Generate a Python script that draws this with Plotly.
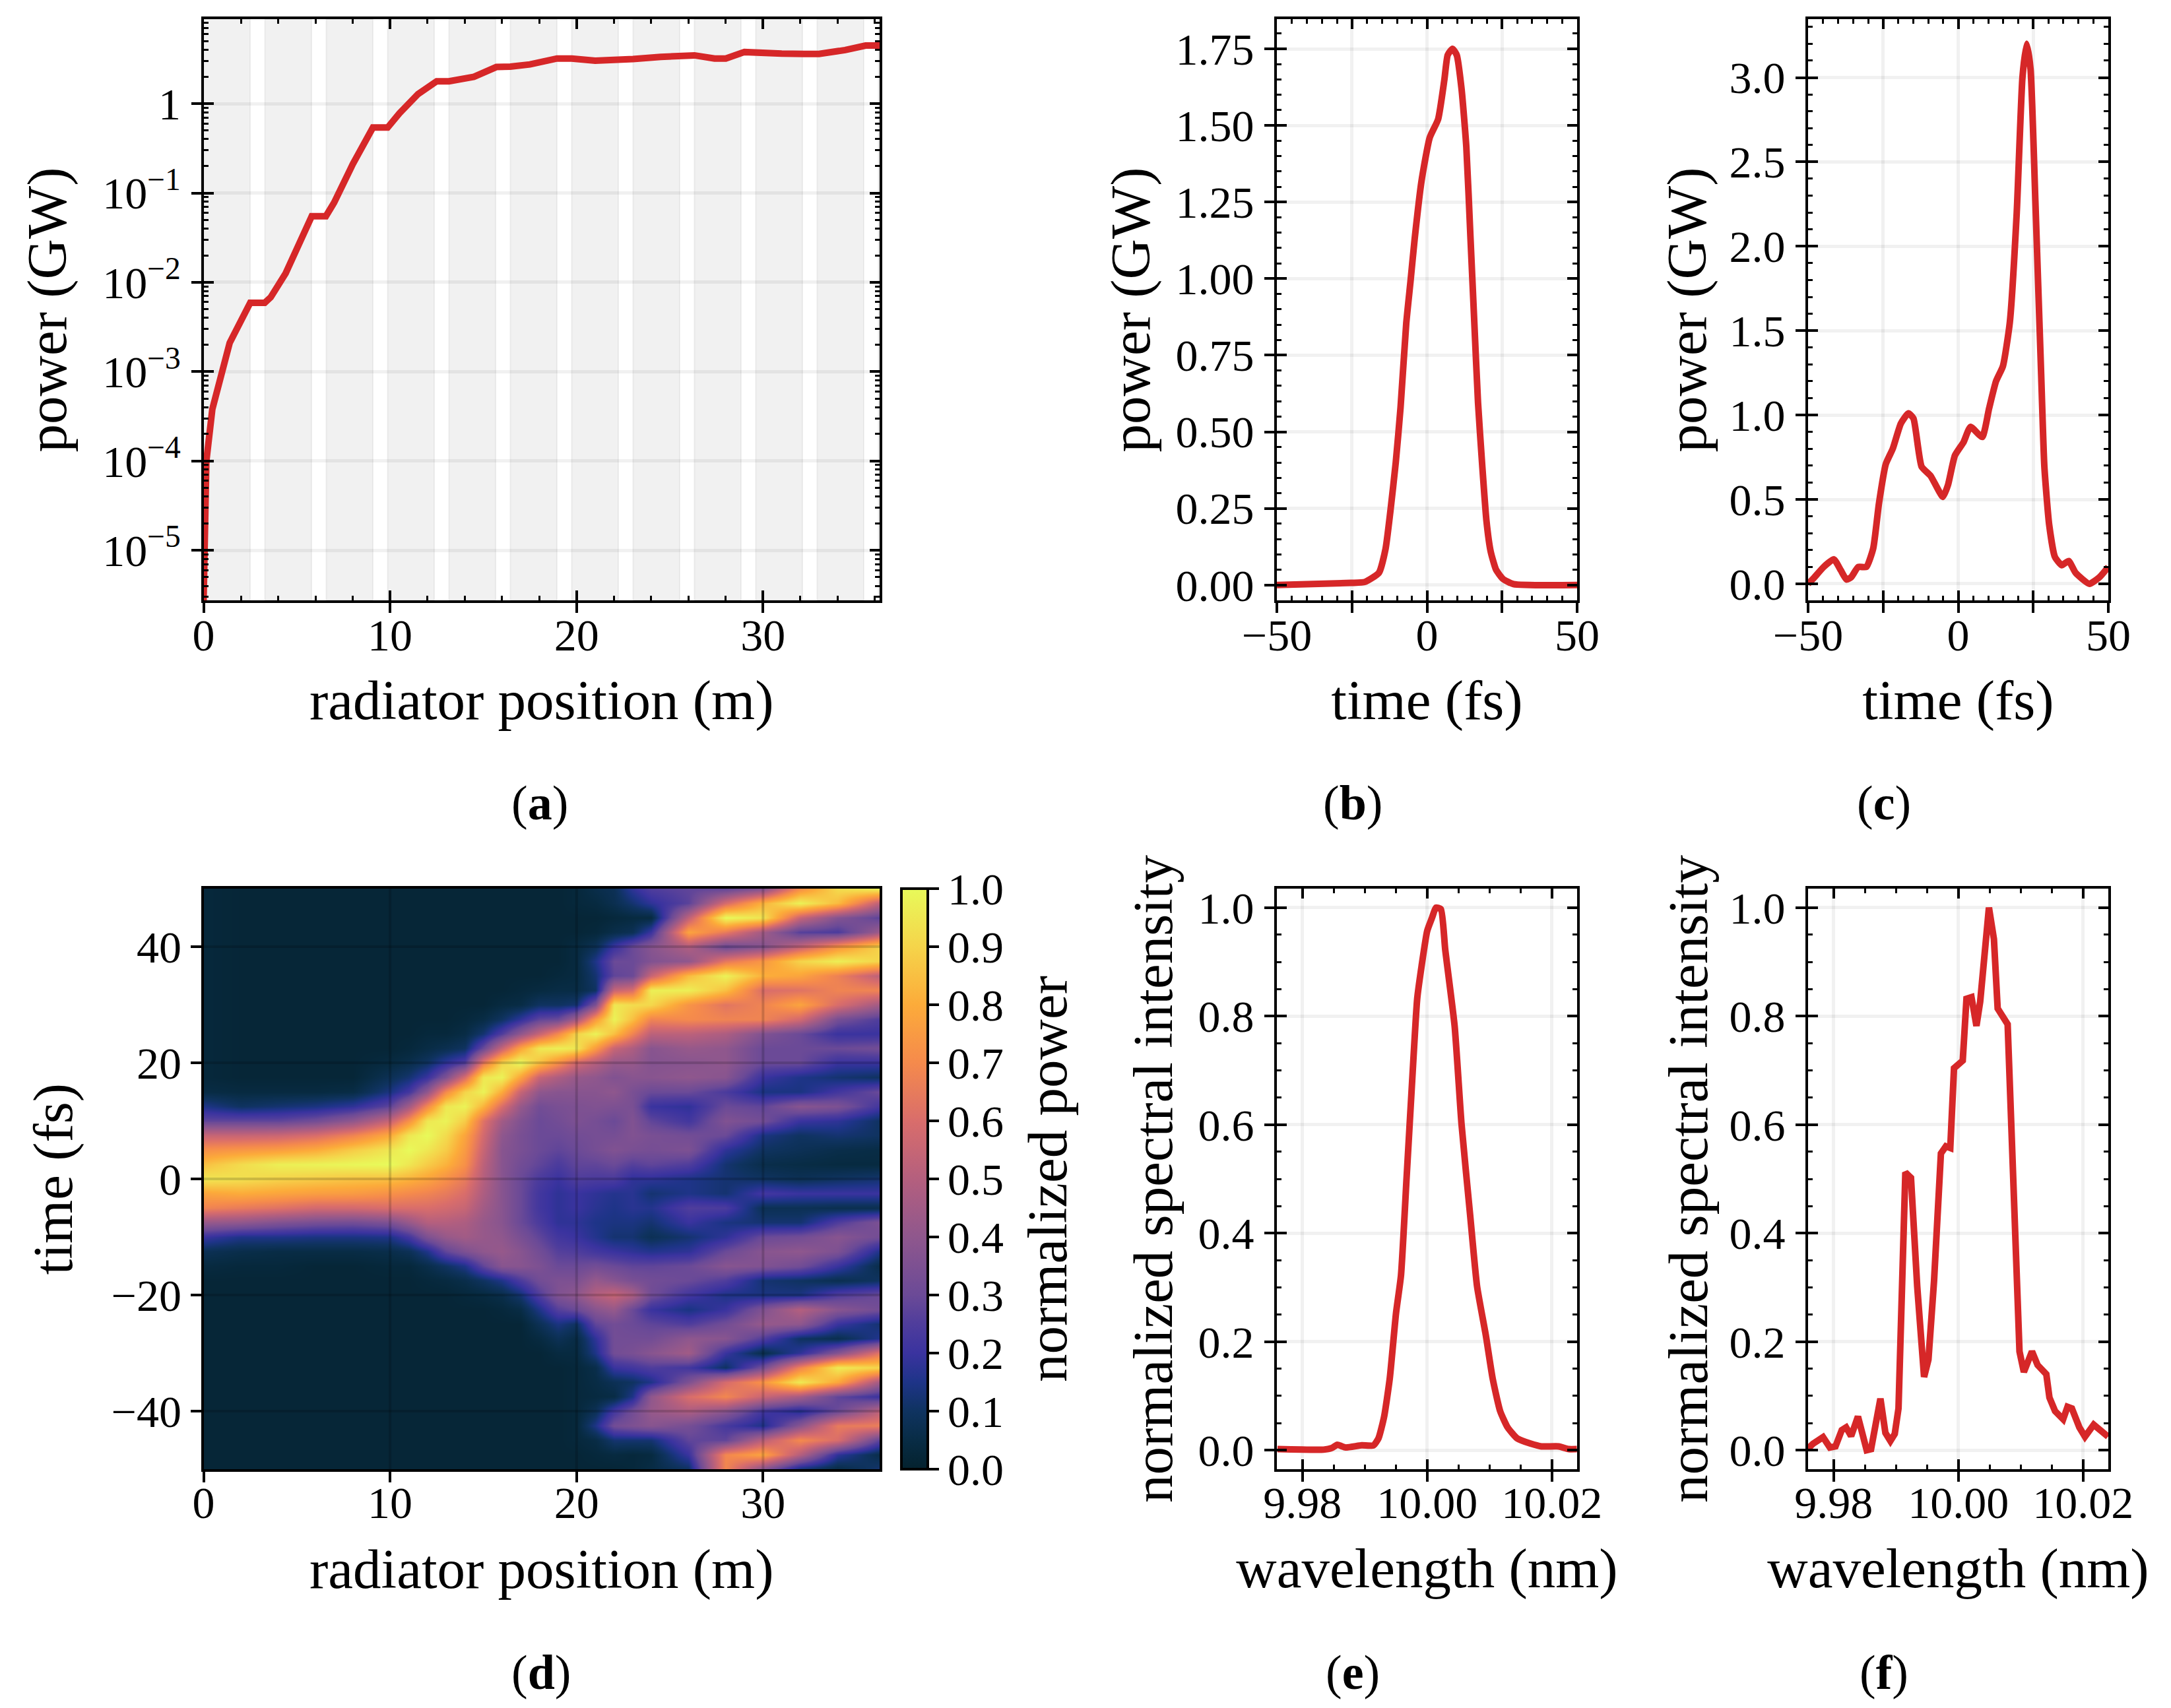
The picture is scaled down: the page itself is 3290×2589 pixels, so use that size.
import numpy as np
import plotly.graph_objects as go

W, H = 3290, 2589
RED = "#d62728"
FONT = "Liberation Serif"
TICK_SIZE = 68
TITLE_SIZE = 85

# (a) gain curve
pos_a = [0, 0.03, 0.15, 0.47, 0.95, 1.4, 2.5, 3.28, 3.6, 4.4, 5.8, 6.56, 7, 8, 9.08, 9.87, 10.5, 11.5, 12.5, 13.16,
         14.5, 15.7, 16.45, 17.5, 18.95, 19.74, 21, 22.3, 23.03, 24.5, 25.7, 26.32, 27.4, 28, 29, 29.7, 31, 32.2, 33,
         34.4, 35.5, 36.25]
power_a = [2.75e-6, 1e-5, 1e-4, 3.8e-4, 1e-3, 2.1e-3, 5.9e-3, 5.9e-3, 6.8e-3, 0.0126, 0.055, 0.055, 0.078, 0.21, 0.54,
           0.54, 0.78, 1.28, 1.78, 1.78, 2.0, 2.57, 2.6, 2.75, 3.2, 3.2, 3.03, 3.03, 3.16, 3.34, 3.47, 3.47, 3.2, 3.2,
           3.78, 3.78, 3.63, 3.6, 3.6, 3.98, 4.47, 4.47]
undulator_starts = [0, 3.29, 6.58, 9.87, 13.16, 16.45, 19.74, 23.03, 26.32, 29.61, 32.9, 36.19]
undulator_ends = [2.5, 5.79, 9.08, 12.37, 15.66, 18.95, 22.24, 25.53, 28.82, 32.11, 35.4, 36.25]

# (b) and (c) temporal profiles
time_b = [-50, -25.3, -20.7, -16, -13.8, -12.2, -10.4, -8.8, -6.9, -5.5, -4.1, -1.8, 0.9, 3.7, 5.8, 6.9, 8.5, 9.9,
          11.5, 13.1, 14.5, 15.7, 17, 18.4, 19.8, 21.2, 23, 25.3, 28.8, 50]
power_b = [0, 0.007, 0.01, 0.04, 0.118, 0.24, 0.40, 0.58, 0.855, 0.99, 1.13, 1.32, 1.46, 1.52, 1.65, 1.73, 1.75, 1.73,
           1.62, 1.43, 1.13, 0.87, 0.595, 0.39, 0.21, 0.11, 0.05, 0.02, 0.003, 0]
time_c = [-50, -48.3, -44.8, -41.4, -39.1, -37.2, -35.6, -33.3, -30.6, -28.3, -26.4, -24.1, -21.8, -19.1, -16.6, -14.9,
          -12.2, -9.2, -5.1, -3.4, -1.1, 1.8, 4.1, 8.0, 10.3, 12.6, 14.9, 17.2, 19.5, 21.4, 22.8, 24.1, 25.7, 27.6,
          28.7, 30.3, 32.2, 34.5, 36.8, 39.1, 43.7, 47.1, 50]
power_c = [0.0, 0.03, 0.10, 0.145, 0.08, 0.025, 0.04, 0.10, 0.10, 0.21, 0.475, 0.71, 0.80, 0.95, 1.01, 0.98,
           0.695, 0.64, 0.515, 0.585, 0.76, 0.84, 0.93, 0.87, 1.04, 1.2, 1.29, 1.55, 2.2, 3.0, 3.2, 3.05, 2.27, 1.26,
           0.695, 0.35, 0.16, 0.11, 0.135, 0.065, 0, 0.04, 0.1]

# (e) and (f) spectra
wave_e = [9.9760, 9.9834, 9.9847, 9.9856, 9.9869, 9.9895, 9.9914, 9.9922, 9.9931, 9.9940, 9.9950, 9.9958, 9.9967,
          9.9976, 9.9984, 9.9991, 10.0000, 10.0008, 10.0014, 10.0022, 10.0029, 10.0044, 10.0055, 10.0069, 10.0080,
          10.0094, 10.0105, 10.0117, 10.0129, 10.0144, 10.0166, 10.0183, 10.0211, 10.0227, 10.0240]
spec_e = [0.002, 0.001, 0.004, 0.010, 0.005, 0.009, 0.009, 0.022, 0.062, 0.132, 0.252, 0.322, 0.502, 0.682, 0.832,
          0.892, 0.957, 0.982, 1.0, 0.997, 0.922, 0.782, 0.602, 0.432, 0.302, 0.212, 0.132, 0.072, 0.042, 0.022, 0.012,
          0.007, 0.007, 0.002, 0.002]
wave_f = [9.9758, 9.9767, 9.9783, 9.9794, 9.9803, 9.9813, 9.9820, 9.9828, 9.9839, 9.9847, 9.9853, 9.9860, 9.9875,
          9.9883, 9.9891, 9.9898, 9.9904, 9.9915, 9.9924, 9.9934, 9.9945, 9.9952, 9.9961, 9.9972, 9.9980, 9.9987,
          9.9993, 10.0007, 10.0013, 10.0021, 10.0029, 10.0035, 10.0049, 10.0057, 10.0063, 10.0079, 10.0086, 10.0095,
          10.0098, 10.0105, 10.0118, 10.0127, 10.0141, 10.0146, 10.0155, 10.0168, 10.0175, 10.0182, 10.0194, 10.0203,
          10.0217, 10.024]
spec_f = [0.002, 0.012, 0.024, 0.005, 0.007, 0.037, 0.042, 0.026, 0.062, 0.032, 0.0, 0.002, 0.095, 0.032, 0.017, 0.03,
          0.077, 0.512, 0.502, 0.302, 0.135, 0.167, 0.312, 0.547, 0.56, 0.557, 0.704, 0.718, 0.832, 0.835, 0.782, 0.827,
          1.0, 0.942, 0.814, 0.785, 0.562, 0.282, 0.182, 0.144, 0.182, 0.157, 0.14, 0.097, 0.072, 0.057, 0.08, 0.077,
          0.042, 0.025, 0.047, 0.025]

# (d) heatmap, one list per radiator position, percent of peak, time from +50 down to -50 fs
pos_d = [0, 2, 4, 6, 8, 10, 11, 12, 13, 14, 15, 16, 17, 18, 19, 20, 21, 22, 23, 24, 26, 28, 30, 32, 34, 36.25]
time_d = [50, 47.5, 45, 42.5, 40, 37.5, 35, 32.5, 30, 27.5, 25, 22.5, 20, 17.5, 15, 12.5, 10, 7.5, 5, 2.5, 0, -2.5, -5,
          -7.5, -10, -12.5, -15, -17.5, -20, -22.5, -25, -27.5, -30, -32.5, -35, -37.5, -40, -42.5, -45, -47.5, -50]
z_columns = [
    [3, 3, 3, 3, 3, 3, 3, 3, 3, 3, 3, 3, 3, 3, 5, 15, 28, 55, 72, 85, 95, 78, 68, 42, 20, 8, 4, 2, 2, 2, 2, 2, 2, 2, 2, 2, 2, 2, 2, 2, 2],
    [2, 2, 2, 2, 2, 2, 2, 2, 2, 2, 2, 2, 2, 2, 4, 10, 28, 55, 74, 92, 93, 80, 65, 40, 15, 6, 3, 2, 2, 2, 2, 2, 2, 2, 2, 2, 2, 2, 2, 2, 2],
    [2, 2, 2, 2, 2, 2, 2, 2, 2, 2, 2, 2, 2, 2, 4, 12, 28, 56, 76, 97, 90, 78, 62, 36, 15, 5, 3, 2, 2, 2, 2, 2, 2, 2, 2, 2, 2, 2, 2, 2, 2],
    [2, 2, 2, 2, 2, 2, 2, 2, 2, 2, 2, 2, 2, 2, 4, 14, 32, 60, 80, 98, 88, 76, 58, 33, 14, 5, 2, 2, 2, 2, 2, 2, 2, 2, 2, 2, 2, 2, 2, 2, 2],
    [2, 2, 2, 2, 2, 2, 2, 2, 2, 2, 2, 2, 2, 2, 5, 18, 40, 68, 88, 99, 86, 75, 58, 32, 14, 5, 2, 2, 2, 2, 2, 2, 2, 2, 2, 2, 2, 2, 2, 2, 2],
    [2, 2, 2, 2, 2, 2, 2, 2, 2, 2, 2, 2, 4, 8, 14, 28, 55, 80, 95, 100, 85, 72, 60, 35, 15, 6, 3, 2, 2, 2, 2, 2, 2, 2, 2, 2, 2, 2, 2, 2, 2],
    [2, 2, 2, 2, 2, 2, 2, 2, 2, 2, 2, 3, 6, 12, 22, 45, 72, 95, 100, 95, 82, 70, 60, 42, 22, 8, 3, 2, 2, 2, 2, 2, 2, 2, 2, 2, 2, 2, 2, 2, 2],
    [2, 2, 2, 2, 2, 2, 2, 2, 2, 2, 3, 5, 10, 20, 40, 70, 95, 100, 95, 88, 78, 68, 60, 50, 35, 15, 6, 3, 2, 2, 2, 2, 2, 2, 2, 2, 2, 2, 2, 2, 2],
    [2, 2, 2, 2, 2, 2, 2, 2, 2, 2, 3, 7, 18, 35, 70, 95, 98, 92, 88, 82, 72, 65, 58, 50, 42, 28, 10, 4, 2, 2, 2, 2, 2, 2, 2, 2, 2, 2, 2, 2, 2],
    [2, 2, 2, 2, 2, 2, 2, 2, 2, 3, 5, 10, 25, 60, 90, 98, 88, 78, 75, 72, 65, 60, 55, 48, 45, 35, 15, 6, 3, 2, 2, 2, 2, 2, 2, 2, 2, 2, 2, 2, 2],
    [2, 2, 2, 2, 2, 2, 2, 2, 2, 5, 12, 30, 65, 95, 98, 82, 62, 58, 55, 52, 50, 48, 45, 42, 42, 40, 28, 10, 4, 2, 2, 2, 2, 2, 2, 2, 2, 2, 2, 2, 2],
    [2, 2, 2, 2, 2, 2, 2, 2, 4, 10, 25, 55, 90, 98, 80, 60, 45, 40, 38, 38, 38, 38, 38, 38, 40, 42, 38, 15, 6, 3, 2, 2, 2, 2, 2, 2, 2, 2, 2, 2, 2],
    [2, 2, 2, 2, 2, 2, 2, 3, 5, 18, 40, 78, 100, 78, 55, 42, 36, 34, 34, 32, 30, 30, 30, 30, 34, 38, 38, 24, 12, 5, 2, 2, 2, 2, 2, 2, 2, 2, 2, 2, 2],
    [2, 2, 2, 2, 2, 2, 2, 4, 10, 28, 55, 95, 85, 55, 40, 32, 30, 30, 30, 28, 24, 22, 22, 24, 28, 32, 35, 32, 25, 15, 8, 4, 2, 2, 2, 2, 2, 2, 2, 2, 2],
    [2, 2, 2, 2, 2, 2, 3, 5, 10, 30, 70, 97, 72, 48, 38, 34, 32, 30, 28, 24, 20, 18, 18, 18, 22, 26, 30, 35, 36, 26, 14, 8, 4, 2, 2, 2, 2, 2, 2, 2, 2],
    [3, 3, 2, 2, 4, 4, 4, 5, 12, 45, 90, 95, 58, 42, 38, 35, 35, 32, 30, 28, 25, 20, 20, 18, 20, 25, 30, 35, 40, 30, 10, 5, 4, 3, 3, 3, 3, 3, 3, 2, 2],
    [6, 4, 2, 3, 8, 15, 12, 10, 35, 75, 98, 75, 50, 40, 38, 36, 33, 33, 33, 28, 24, 18, 17, 15, 16, 22, 32, 42, 50, 38, 28, 18, 15, 6, 5, 4, 8, 15, 5, 3, 2],
    [8, 7, 3, 6, 20, 30, 28, 55, 95, 98, 85, 55, 42, 36, 40, 35, 30, 33, 36, 30, 24, 16, 15, 14, 12, 20, 30, 38, 55, 42, 32, 32, 32, 20, 8, 5, 22, 32, 12, 4, 2],
    [18, 12, 4, 8, 30, 30, 30, 60, 92, 85, 68, 48, 42, 38, 34, 34, 36, 36, 34, 26, 18, 17, 17, 14, 12, 18, 28, 34, 48, 30, 30, 32, 34, 22, 10, 15, 32, 35, 12, 3, 3],
    [25, 18, 4, 20, 38, 36, 55, 97, 91, 68, 52, 38, 37, 38, 30, 20, 28, 34, 33, 28, 18, 12, 16, 12, 8, 16, 28, 32, 32, 20, 28, 32, 38, 25, 15, 40, 42, 38, 12, 4, 5],
    [28, 27, 53, 78, 49, 40, 84, 97, 73, 70, 52, 42, 38, 40, 30, 18, 22, 32, 35, 25, 15, 15, 25, 20, 12, 18, 30, 30, 22, 14, 25, 40, 45, 22, 35, 60, 48, 33, 28, 20, 10],
    [28, 59, 100, 65, 30, 64, 98, 85, 63, 68, 48, 40, 40, 38, 24, 30, 36, 30, 18, 12, 12, 12, 24, 14, 18, 30, 38, 25, 15, 20, 32, 38, 20, 10, 59, 69, 39, 23, 28, 69, 69],
    [36, 82, 94, 45, 37, 74, 81, 60, 68, 68, 36, 30, 30, 20, 14, 28, 32, 14, 10, 6, 10, 22, 8, 12, 30, 38, 36, 12, 14, 36, 42, 25, 6, 33, 73, 55, 22, 15, 52, 78, 37],
    [71, 98, 55, 26, 54, 90, 78, 62, 78, 58, 30, 30, 30, 15, 14, 38, 20, 10, 8, 5, 8, 20, 8, 12, 32, 40, 32, 10, 14, 50, 40, 10, 18, 68, 96, 46, 16, 38, 70, 50, 12],
    [92, 84, 37, 24, 73, 97, 67, 68, 60, 33, 20, 30, 20, 12, 22, 35, 18, 12, 6, 4, 10, 20, 7, 25, 38, 35, 20, 7, 25, 38, 20, 7, 37, 96, 79, 28, 30, 65, 60, 18, 5],
    [98, 52, 27, 44, 90, 90, 52, 68, 45, 25, 20, 32, 20, 10, 30, 22, 10, 10, 5, 4, 12, 20, 7, 35, 32, 15, 6, 10, 30, 32, 12, 16, 63, 90, 45, 20, 52, 66, 27, 6, 12],
]
z_norm = (np.array(z_columns).T / 100).tolist()

thermal = [[0.0, "#04222e"], [0.05, "#082c45"], [0.1, "#0f3360"], [0.15, "#1e3488"], [0.2, "#3a339f"], [0.25, "#4f3d9c"],
           [0.3, "#6b4a97"], [0.4, "#8f578d"], [0.5, "#b45f7e"], [0.6, "#d96d6b"], [0.7, "#f58a4c"], [0.8, "#fcab3a"],
           [0.9, "#f5d44a"], [1.0, "#e8fa5a"]]

GRID = "rgba(0,0,0,0.055)"


def dom_x(left, right):
    return [left / W, right / W]


def dom_y(top, bottom):
    return [1 - bottom / H, 1 - top / H]


# primary axis keeps the labels and the outer half of the major ticks, the overlay axis the inner ticks
def axis_pair(domain, rng, vals, text, inner_vals, minor, title, standoff, pad, grid=True, **extra):
    primary = dict(domain=domain, range=rng, tickmode="array", tickvals=vals, ticktext=text, ticks="outside",
                   ticklen=15, tickwidth=4, tickcolor="black", showline=True, linewidth=4, linecolor="black",
                   showgrid=False, zeroline=False, tickfont=dict(size=TICK_SIZE), ticklabelstandoff=pad,
                   title=dict(text=title, standoff=standoff, font=dict(size=TITLE_SIZE)), **extra)
    extra_outer = [v for v in inner_vals if v not in vals]
    if extra_outer:
        primary["minor"] = dict(ticks="outside", ticklen=15, tickwidth=4, tickcolor="black", showgrid=False,
                                tickmode="array", tickvals=extra_outer)
    overlay = dict(domain=domain, range=rng, tickmode="array", tickvals=inner_vals, ticks="inside", ticklen=15, tickwidth=4,
                   tickcolor="black", showline=True, linewidth=4, linecolor="black", mirror="ticks", showticklabels=False,
                   showgrid=grid, gridcolor=GRID, gridwidth=5, zeroline=False,
                   minor=dict(ticks="inside", ticklen=7, tickwidth=3, tickcolor="black", showgrid=False, **minor),
                   **extra)
    return primary, overlay


fig = go.Figure()
layout = {}

log_minor = [m * 10.0 ** e for e in range(-6, 1) for m in range(2, 10)]
log_vals = [1e-5, 1e-4, 1e-3, 1e-2, 1e-1, 1]
log_text = ["10<sup>−5</sup>", "10<sup>−4</sup>", "10<sup>−3</sup>", "10<sup>−2</sup>", "10<sup>−1</sup>", "1"]

line_panels = [
    dict(n=1, xdom=(308.5, 1333), ydom=(29, 910), x=pos_a, y=power_a, shape="linear",
         xr=[0, 36.25], yr=[-5.56, 0.946], xvals=[0, 10, 20, 30], xtext=["0", "10", "20", "30"], xinner=[0, 10, 20, 30],
         yvals=log_vals, ytext=log_text, xminor=dict(tick0=0, dtick=2), yminor=dict(tickmode="array", tickvals=log_minor),
         xtitle="radiator position (m)", ytitle="power (GW)", ylog=True, xgrid=False,
         xpad=-25, xstand=32, ystand=28),
    dict(n=2, xdom=(1935, 2390), ydom=(29, 910), x=time_b, y=power_b, shape="spline",
         xr=[-50, 50], yr=[-0.05, 1.847], xvals=[-50, 0, 50], xtext=["−50", "0", "50"], xinner=[-50, -25, 0, 25, 50],
         yvals=[0, 0.25, 0.5, 0.75, 1, 1.25, 1.5, 1.75], ytext=["0.00", "0.25", "0.50", "0.75", "1.00", "1.25", "1.50", "1.75"],
         xminor=dict(tick0=0, dtick=5), yminor=dict(tick0=0, dtick=0.05),
         xtitle="time (fs)", ytitle="power (GW)", ylog=False, xgrid=True, xpad=-25, xstand=32, ystand=12),
    dict(n=3, xdom=(2740, 3195), ydom=(29, 910), x=time_c, y=power_c, shape="spline",
         xr=[-50, 50], yr=[-0.098, 3.346], xvals=[-50, 0, 50], xtext=["−50", "0", "50"], xinner=[-50, -25, 0, 25, 50],
         yvals=[0, 0.5, 1, 1.5, 2, 2.5, 3], ytext=["0.0", "0.5", "1.0", "1.5", "2.0", "2.5", "3.0"],
         xminor=dict(tick0=0, dtick=5), yminor=dict(tick0=0, dtick=0.1),
         xtitle="time (fs)", ytitle="power (GW)", ylog=False, xgrid=True, xpad=-25, xstand=32, ystand=8),
    dict(n=5, xdom=(1935, 2390), ydom=(1347, 2227), x=wave_e, y=spec_e, shape="spline",
         xr=[9.9759, 10.02404], yr=[-0.035, 1.035], xvals=[9.98, 10.0, 10.02], xtext=["9.98", "10.00", "10.02"],
         xinner=[9.98, 10.0, 10.02], yvals=[0, 0.2, 0.4, 0.6, 0.8, 1],
         ytext=["0.0", "0.2", "0.4", "0.6", "0.8", "1.0"], xminor=dict(tick0=9.98, dtick=0.005),
         yminor=dict(tick0=0, dtick=0.05), xtitle="wavelength (nm)", ytitle="normalized spectral intensity", ylog=False,
         xgrid=True, xpad=-27, xstand=33, ystand=12),
    dict(n=6, xdom=(2740, 3195), ydom=(1347, 2227), x=wave_f, y=spec_f, shape="linear",
         xr=[9.9759, 10.02404], yr=[-0.035, 1.035], xvals=[9.98, 10.0, 10.02], xtext=["9.98", "10.00", "10.02"],
         xinner=[9.98, 10.0, 10.02], yvals=[0, 0.2, 0.4, 0.6, 0.8, 1],
         ytext=["0.0", "0.2", "0.4", "0.6", "0.8", "1.0"], xminor=dict(tick0=9.98, dtick=0.005),
         yminor=dict(tick0=0, dtick=0.05), xtitle="wavelength (nm)", ytitle="normalized spectral intensity", ylog=False,
         xgrid=True, xpad=-27, xstand=33, ystand=6),
]

for p in line_panels:
    n = p["n"]
    over = n + 10
    y_extra = dict(type="log") if p["ylog"] else {}
    xa, xo = axis_pair(dom_x(*p["xdom"]), p["xr"], p["xvals"], p["xtext"], p["xinner"], p["xminor"], p["xtitle"],
                       p["xstand"], p["xpad"], grid=p["xgrid"])
    ya, yo = axis_pair(dom_y(*p["ydom"]), p["yr"], p["yvals"], p["ytext"], p["yvals"], p["yminor"], p["ytitle"],
                       p["ystand"], 2, **y_extra)
    xa.update(anchor=f"y{n}")
    ya.update(anchor=f"x{n}")
    xo.update(anchor=f"y{over}", overlaying=f"x{n}" if n > 1 else "x")
    yo.update(anchor=f"x{over}", overlaying=f"y{n}" if n > 1 else "y")
    layout[f"xaxis{n}"] = xa
    layout[f"yaxis{n}"] = ya
    layout[f"xaxis{over}"] = xo
    layout[f"yaxis{over}"] = yo
    fig.add_trace(go.Scatter(x=[None], y=[None], xaxis=f"x{n}", yaxis=f"y{n}", showlegend=False, hoverinfo="skip"))
    fig.add_trace(go.Scatter(x=p["x"], y=p["y"], mode="lines", xaxis=f"x{over}", yaxis=f"y{over}", showlegend=False,
                             line=dict(color=RED, width=10, shape=p["shape"], smoothing=0.5)))

# (d)
heat_x = dom_x(308.5, 1333)
heat_y = dom_y(1347, 2227)
layout["xaxis4"] = dict(domain=heat_x, range=[0, 36.25], anchor="y4", tickvals=[0, 10, 20, 30], ticks="outside",
                        ticklen=16, tickwidth=4, tickcolor="black", showline=True, mirror=True, linewidth=4,
                        linecolor="black", showgrid=False, zeroline=False, tickfont=dict(size=TICK_SIZE),
                        ticklabelstandoff=-28,
                        title=dict(text="radiator position (m)", standoff=34, font=dict(size=TITLE_SIZE)))
layout["yaxis4"] = dict(domain=heat_y, range=[-50, 50], anchor="x4", tickvals=[-40, -20, 0, 20, 40], ticks="outside",
                        ticklen=16, tickwidth=4, tickcolor="black", showline=True, mirror=True, linewidth=4,
                        linecolor="black", showgrid=False, zeroline=False, tickfont=dict(size=TICK_SIZE),
                        title=dict(text="time (fs)", standoff=32, font=dict(size=TITLE_SIZE)))
fig.add_trace(go.Heatmap(x=pos_d, y=time_d, z=z_norm, zmin=0, zmax=1, zsmooth="best", colorscale=thermal, xaxis="x4",
                         yaxis="y4",
                         colorbar=dict(x=1366 / W, xanchor="left", y=heat_y[0], yanchor="bottom", len=heat_y[1] - heat_y[0],
                                       lenmode="fraction", thickness=40, thicknessmode="pixels", xpad=0, ypad=0,
                                       outlinewidth=4, outlinecolor="black", tick0=0, dtick=0.1, tickformat=".1f",
                                       ticksuffix="\u00a0", ticks="outside", ticklen=15,
                                       tickwidth=4, tickcolor="black", tickfont=dict(size=TICK_SIZE),
                                       title=dict(text="normalized power", side="right", font=dict(size=TITLE_SIZE)))))

shapes = []
for start, end in zip(undulator_starts, undulator_ends):
    shapes.append(dict(type="rect", xref="x11", yref="y11 domain", x0=start, x1=end, y0=0, y1=1, layer="below",
                       fillcolor=GRID, line=dict(color=GRID, width=2)))
for v in [10, 20, 30]:
    shapes.append(dict(type="line", xref="x4", yref="y4 domain", x0=v, x1=v, y0=0, y1=1, layer="above",
                       line=dict(color="rgba(0,0,0,0.16)", width=4)))
for v in [-40, -20, 0, 20, 40]:
    shapes.append(dict(type="line", xref="x4 domain", yref="y4", x0=0, x1=1, y0=v, y1=v, layer="above",
                       line=dict(color="rgba(0,0,0,0.16)", width=4)))

panel_labels = [("a", 818, 1217), ("b", 2050, 1217), ("c", 2855, 1217), ("d", 820, 2535), ("e", 2050, 2535), ("f", 2855, 2535)]
annotations = [dict(text=f"(<b>{t}</b>)", xref="paper", yref="paper", x=px / W, y=1 - py / H, showarrow=False,
                    xanchor="center", yanchor="middle", font=dict(size=74)) for t, px, py in panel_labels]

fig.update_layout(width=W, height=H, margin=dict(l=0, r=0, t=0, b=0, autoexpand=False), paper_bgcolor="white",
                  plot_bgcolor="white", font=dict(family=FONT, color="black"), shapes=shapes, annotations=annotations,
                  showlegend=False, **layout)

fig.write_html("out.html", config=dict(displayModeBar=False), post_script="document.body.style.margin='0';")
